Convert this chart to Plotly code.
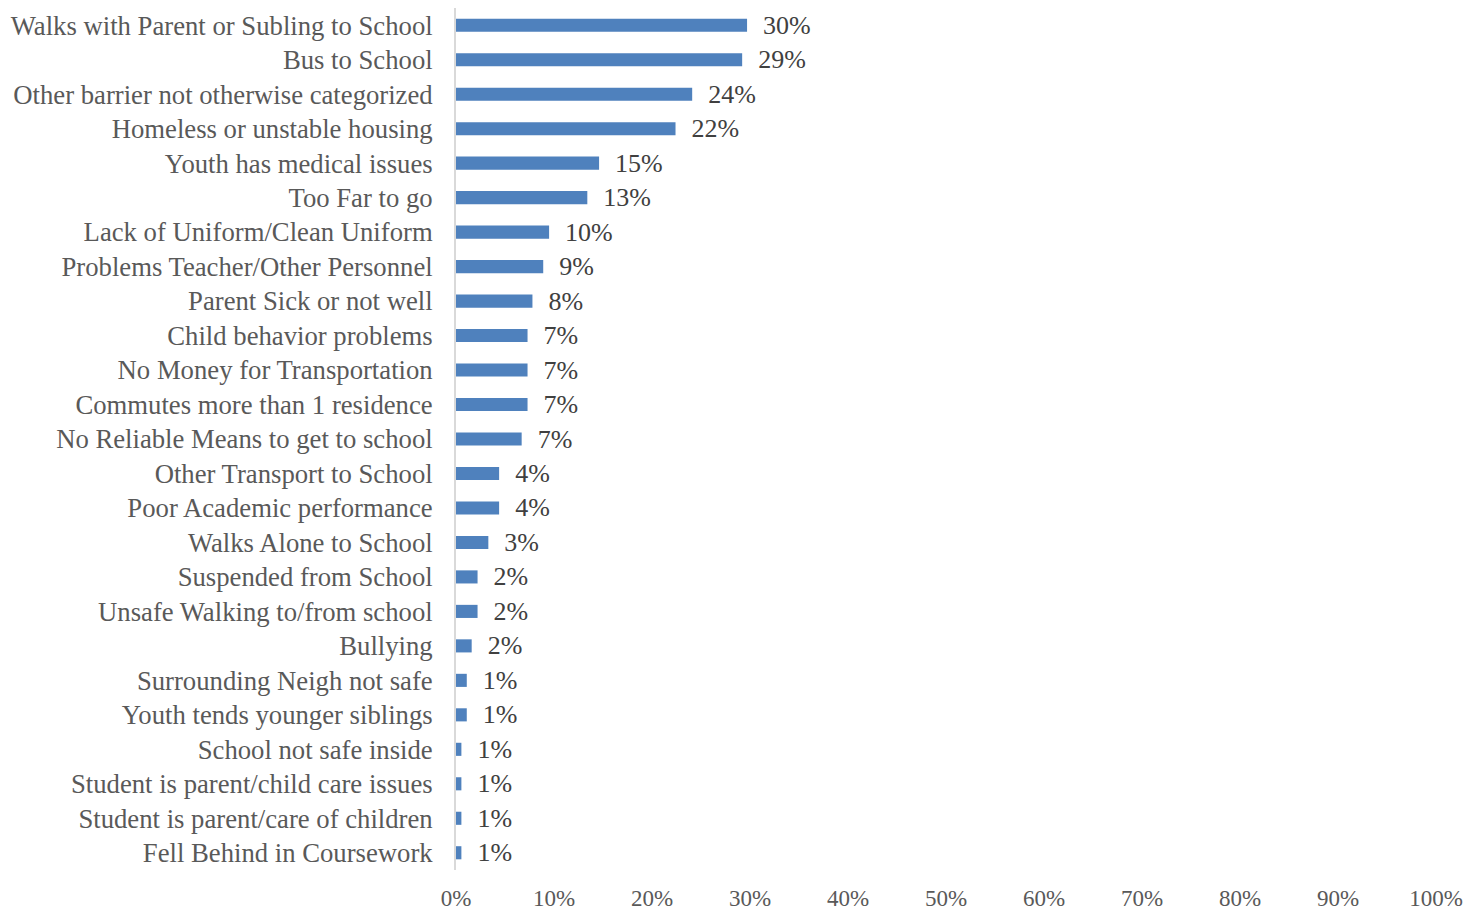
import plotly.graph_objects as go

categories = [
    "Walks with Parent or Subling to School",
    "Bus to School",
    "Other barrier not otherwise categorized",
    "Homeless or unstable housing",
    "Youth has medical issues",
    "Too Far to go",
    "Lack of Uniform/Clean Uniform",
    "Problems Teacher/Other Personnel",
    "Parent Sick or not well",
    "Child behavior problems",
    "No Money for Transportation",
    "Commutes more than 1 residence",
    "No Reliable Means to get to school",
    "Other Transport to School",
    "Poor Academic performance",
    "Walks Alone to School",
    "Suspended from School",
    "Unsafe Walking to/from school",
    "Bullying",
    "Surrounding Neigh not safe",
    "Youth tends younger siblings",
    "School not safe inside",
    "Student is parent/child care issues",
    "Student is parent/care of children",
    "Fell Behind in Coursework",
]
values = [29.7, 29.2, 24.1, 22.4, 14.6, 13.4, 9.5, 8.9, 7.8, 7.3, 7.3, 7.3, 6.7,
          4.4, 4.4, 3.3, 2.2, 2.2, 1.6, 1.1, 1.1, 0.55, 0.55, 0.55, 0.55]
value_labels = ["30%", "29%", "24%", "22%", "15%", "13%", "10%", "9%", "8%", "7%",
                "7%", "7%", "7%", "4%", "4%", "3%", "2%", "2%", "2%", "1%", "1%",
                "1%", "1%", "1%", "1%"]
x_ticks = [0, 10, 20, 30, 40, 50, 60, 70, 80, 90, 100]
x_tick_text = [f"{t}%" for t in x_ticks]

FONT = "Liberation Serif, Times New Roman, serif"

fig = go.Figure(go.Bar(
    x=values,
    y=categories,
    orientation="h",
    marker=dict(color="#4F81BD", line=dict(width=0)),
    width=0.38,
    text=["\u00a0\u00a0" + s for s in value_labels],
    textposition="outside",
    constraintext="none",
    textfont=dict(family=FONT, size=26, color="#404040"),
    cliponaxis=False,
    hoverinfo="skip",
))

fig.update_layout(
    width=1483, height=911,
    margin=dict(l=456, r=47, t=8, b=41),
    plot_bgcolor="white", paper_bgcolor="white",
    showlegend=False,
    font=dict(family=FONT, color="#404040"),
    xaxis=dict(
        range=[0, 100],
        tickvals=x_ticks,
        ticktext=x_tick_text,
        tickfont=dict(family=FONT, size=23, color="#595959"),
        showgrid=False, zeroline=False, showline=False,
        ticks="",
        ticklabelstandoff=12,
        automargin=False,
    ),
    yaxis=dict(
        categoryorder="array",
        categoryarray=categories[::-1],
        tickfont=dict(family=FONT, size=26.7, color="#595959"),
        showgrid=False, zeroline=False,
        showline=True, linecolor="#D9D9D9", linewidth=2,
        ticks="",
        ticklabelstandoff=16,
        automargin=False,
    ),
)

fig.write_html("out.html", config={"displayModeBar": False},
               post_script="document.body.style.margin='0';")
